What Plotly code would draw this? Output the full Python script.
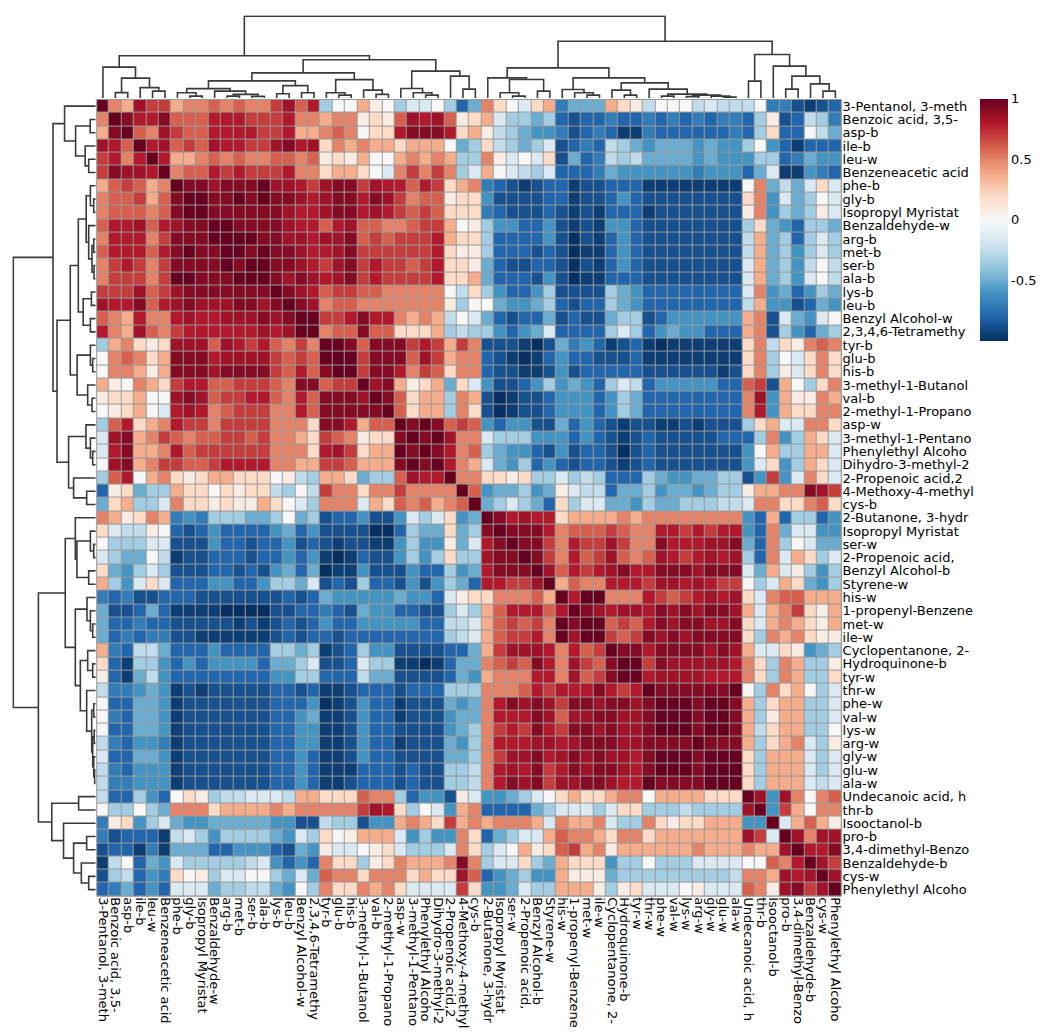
import plotly.graph_objects as go

W, H = 1043, 1032

labels = ["3-Pentanol, 3-meth", "Benzoic acid, 3,5-", "asp-b", "ile-b", "leu-w",
          "Benzeneacetic acid", "phe-b", "gly-b", "Isopropyl Myristat", "Benzaldehyde-w",
          "arg-b", "met-b", "ser-b", "ala-b", "lys-b", "leu-b", "Benzyl Alcohol-w",
          "2,3,4,6-Tetramethy", "tyr-b", "glu-b", "his-b", "3-methyl-1-Butanol", "val-b",
          "2-methyl-1-Propano", "asp-w", "3-methyl-1-Pentano", "Phenylethyl Alcoho",
          "Dihydro-3-methyl-2", "2-Propenoic acid,2", "4-Methoxy-4-methyl", "cys-b",
          "2-Butanone, 3-hydr", "Isopropyl Myristat", "ser-w", "2-Propenoic acid,",
          "Benzyl Alcohol-b", "Styrene-w", "his-w", "1-propenyl-Benzene", "met-w", "ile-w",
          "Cyclopentanone, 2-", "Hydroquinone-b", "tyr-w", "thr-w", "phe-w", "val-w", "lys-w",
          "arg-w", "gly-w", "glu-w", "ala-w", "Undecanoic acid, h", "thr-b", "Isooctanol-b",
          "pro-b", "3,4-dimethyl-Benzo", "Benzaldehyde-b", "cys-w", "Phenylethyl Alcoho"]

# correlation value read for each colour code
code_values = {"A": -1.0, "B": -0.95, "C": -0.88, "D": -0.8, "E": -0.7, "F": -0.6,
               "G": -0.5, "H": -0.35, "I": -0.25, "J": -0.15, "K": 0.0, "L": 0.08,
               "M": 0.2, "N": 0.37, "O": 0.5, "P": 0.6, "Q": 0.7, "R": 0.8, "S": 0.85,
               "T": 0.92, "U": 1.0}

# upper triangle of the correlation matrix, row r holds columns r..59
upper_rows = [
    "UONSQQNOOPOPOOQSPRHK" "KNLKHJJKHDGOMKJMNEGG" "GNMLIKKKIJIIIKEECBCD",
    "UTRRTPPPRRRQQQROONO" "OLMLPSRSPLMNJHHGHDCD" "DEDDEDEDEDEEDHLCDIHE",
    "UPOSQPPRRRRQQRNNOP" "OKMMRTTTRMNLIHGFFECD" "EDBBEDDDDDDEDHMDDKIG",
    "URSPQPSRRQQSTRSMO" "NONNMNNNKGHMIHGHJCDE" "DIHGFGGGFGFFHKFDBDDD",
    "URNNOPOPOOPPOPLM" "LNKKNONONHHOLJKJMCGD" "EIHIGGGGFGFFFHHDEGFF",
    "UOPPRQRQQQROOMN" "NMKJOQOQOHJNKJIHJDDD" "EGFFFFFFEFFFDGJBBFED",
    "UTTSTTTUSSRQST" "TQSRRPRQMNOEDCBCDDBC" "CDDDBBBBBBBBKOGIGJMJ",
    "UUTTUTUTTSRST" "TRTSQOPPLMMFCCCCDDBC" "CDFDCCCCCCCCMOFJGHKJ",
    "UTTTTTTSRRST" "TRSRQPQPMMMEDCCCDCBC" "BDDDBCCCCCCCLOFHGHLJ",
    "UUTTTTSRRPR" "SPPOOPQQNKLHFFDDFCBC" "BFFDCCCCCCCCHMGFDHHG",
    "UUUTTSSRSS" "TPQPQQQRNMMHDDDDFCAC" "BDFDCCCCCCCCINGHDHJH",
    "UTUTTSRRS" "TQQQQQQRMLLHDDDCDCAB" "BDFDCCCCCCCCINGHFHJH",
    "UUTTSRQS" "TQRQQPQRMMLGDCCDDCAC" "BDFDCCCCCCCCJNGHFIKI",
    "UTSTSRS" "TQRQQQQRMMNGDDDCFCAB" "BDDDCCCCCCCCJNGHFJKI",
    "UTSRPQ" "QPPOOOOOKIMHFDDFHCCC" "CHGFDDDDDDDDJOFGDFHG",
    "UTSOP" "POOOOOOOLHKKGFFGHDCD" "DHGFDDDDDDDDINFFCDGF",
    "UUQQ" "RTRRONONIKJGDCDDGCDC" "CGHHCDFFFFFFNOCJGFJK",
    "UOP" "PTPPMMMNHIHHFDFGJDDD" "DHJHDFGFFDDDNOCHFDGH",
    "UU" "TPTTTQRQNQOCCCBACGEF" "DBCDBABBBBBBMOIMLOPO",
    "U" "UQTTTPSQNOODCBABDFDD" "CCCDBBBBBBBBMOHKJMOM",
    "UQTTROQPMOODCCBBCFCD" "DDDDCCCCCCBCMOHLJMOM",
    "USTNLMNGMJFCCDFHFGF" "DHJIDFFFFFDDPQCNKHMO",
    "UTPMNNHONCABCCDFFF" "DFHGDDDDDDDDOSFNLLON",
    "UPMNNHOMCABCCDFFF" "DFHGDDDDDDDDORFNMMOO",
    "UTUTPQPFDFFCCGDF" "DCBCCBBCBCCCHMNJJOOM",
    "UTUSOOJHHHFFFDF" "DCBCDCCCCCDDDHOFHNMJ",
    "UTROPHGFFDCFCD" "DCACDCCCCCCCFKNHHNNJ",
    "URONJGFHDFDCD" "DCBCDCCCCCCCFJMFHNMJ",
    "UOOMMLMHHJHI" "HDDDHGFFGGHHCFQFJOMJ",
    "UPFGGHFGLJI" "IDGGHFGGFGHHLNNOOTSQ",
    "UGHJHGDMHJ" "JGGFHGGHHHIIJOOMMOPM",
    "UTRSRRMNN" "NNONOOOOOOOOFDNDHHDF",
    "UTTTROPP" "PQPOORRQRQRRFDOGJJFF",
    "UTTQORQ" "QSQOOTRRRSSTGDOHKJGG",
    "UTQORP" "QSPOPSRQRSRSHDOJNMHJ",
    "USPRQ" "RSTRRTTTSTTTJGNJLHFH",
    "UNPO" "ORRRQSSRSRQQKHJNMGFH",
    "URU" "UOOORQPQRSRSMJOPPNNN",
    "UT" "SRSSRTSTSTTSNJNOQMLN",
    "U" "UPQPRTSTTSSTMJNONMLN",
    "UQPQTSTSTTTTMHONOMLL",
    "UTTRTTTTSTSNJJMLFGH",
    "UUQTSSSSSROMHONHHL",
    "URSSSSRRROMHONHHM",
    "UTTTTTTUKHOMNKHJ",
    "UUUTUUTNHMNNHHJ",
    "UUTUUTNHLNNHHJ",
    "UTUUTNIMNNHHK",
    "UTTTNHMNOJHL",
    "UUUMHNNNJHJ",
    "UUMHNNNJHJ",
    "UMHNNNJIJ",
    "USFSOKOP",
    "UFQNKOO",
    "UJNPNL",
    "USOSS",
    "URRT",
    "USQ",
    "US",
    "U",
]

# dendrogram merges: (name, left, right, height)
merges = [
    ("a45", 4, 5, 7), ("a345", 3, "a45", 10.5), ("a12", 1, 2, 5.5),
    ("a1_5", "a12", "a345", 20), ("A", 0, "a1_5", 31),
    ("b78", 7, 8, 2), ("b678", 6, "b78", 5.3), ("b1011", 10, 11, 2), ("b1213", 12, 13, 1.7),
    ("b10_13", "b1011", "b1213", 3.7), ("b9_13", 9, "b10_13", 7), ("b6_13", "b678", "b9_13", 9.5),
    ("b1415", 14, 15, 4.3), ("b1617", 16, 17, 5.3), ("b14_17", "b1415", "b1617", 12.5),
    ("b6_17", "b6_13", "b14_17", 17.3), ("b1920", 19, 20, 3), ("b18_20", 18, "b1920", 5.3),
    ("b2223", 22, 23, 3.7), ("b21_23", 21, "b2223", 8), ("b18_23", "b18_20", "b21_23", 18.5),
    ("B1", "b6_17", "b18_23", 25.3),
    ("b2627", 26, 27, 3), ("b25_27", 25, "b2627", 5.3), ("b24_27", 24, "b25_27", 9.7),
    ("b2930", 29, 30, 9), ("b28_30", 28, "b2930", 22), ("B2", "b24_27", "b28_30", 27),
    ("B", "B1", "B2", 38.5), ("L", "A", "B", 42.5),
    ("c3334", 33, 34, 2), ("c32_34", 32, "c3334", 5.3), ("c3536", 35, 36, 7),
    ("c32_36", "c32_34", "c3536", 18.7), ("c31_36", 31, "c32_36", 20.3),
    ("c3940", 39, 40, 3), ("c38_40", 38, "c3940", 5.3), ("c37_40", 37, "c38_40", 8.7),
    ("c4243", 42, 43, 3), ("c41_43", 41, "c4243", 8),
    ("c5051", 50, 51, 1), ("c49_51", 49, "c5051", 2), ("c4748", 47, 48, 1.5),
    ("c47_51", "c4748", "c49_51", 3), ("c4546", 45, 46, 2), ("c45_51", "c4546", "c47_51", 4),
    ("c44_51", 44, "c45_51", 9), ("c41_51", "c41_43", "c44_51", 15.3),
    ("c37_51", "c37_40", "c41_51", 20.3), ("C1", "c31_36", "c37_51", 30.3),
    ("c5253", 52, 53, 17), ("c5556", 55, 56, 9), ("c5859", 58, 59, 7),
    ("c57_59", 57, "c5859", 14.3), ("c55_59", "c5556", "c57_59", 22),
    ("c54_59", 54, "c55_59", 32), ("C2", "c5253", "c54_59", 43.7),
    ("R", "C1", "C2", 57), ("root", "L", "R", 82),
]

n = len(labels)
assert n == 60
for r, s in enumerate(upper_rows):
    assert len(s) == n - r, (r, len(s))

z = [[0.0] * n for _ in range(n)]
for r, s in enumerate(upper_rows):
    for k, ch in enumerate(s):
        c = r + k
        z[r][c] = code_values[ch]
        z[c][r] = code_values[ch]

# dendrogram segments
pos = {i: float(i) for i in range(n)}
hgt = {i: 0.0 for i in range(n)}
dx, dy = [], []
for name, a, b, h in merges:
    xa, xb, ha, hb = pos[a], pos[b], hgt[a], hgt[b]
    dx += [xa, xa, xb, xb, None]
    dy += [ha, h, h, hb, None]
    pos[name] = (xa + xb) / 2
    hgt[name] = h

rdbu = ["rgb(5,48,97)", "rgb(33,102,172)", "rgb(67,147,195)", "rgb(146,197,222)",
        "rgb(209,229,240)", "rgb(247,247,247)", "rgb(253,219,199)", "rgb(244,165,130)",
        "rgb(214,96,77)", "rgb(178,24,43)", "rgb(103,0,31)"]
cscale = [[i / 10, c] for i, c in enumerate(rdbu)]

# pixel geometry
hx0, hx1, hy0, hy1 = 96, 843, 98.7, 897
FONT = "DejaVu Sans"
GRID = "#9a9a9a"

def px(x):
    return x / W

def py(y):
    return 1 - y / H

fig = go.Figure()
fig.add_trace(go.Heatmap(
    z=z, x=list(range(n)), y=list(range(n)), colorscale=cscale, zmin=-1, zmax=1,
    xgap=1, ygap=1, hoverinfo="skip",
    colorbar=dict(x=px(982), xanchor="left", y=py(219), yanchor="middle",
                  len=242, lenmode="pixels", thickness=28, thicknessmode="pixels",
                  outlinewidth=0, ticks="", tickvals=[1, 0.5, 0, -0.5],
                  ticktext=["1", "0.5", "0", "-0.5"], xpad=0, ypad=0,
                  tickfont=dict(family=FONT, size=13, color="black")),
))
line = dict(color="#3a3a3a", width=1.6)
fig.add_trace(go.Scatter(x=dx, y=dy, mode="lines", line=line, xaxis="x2", yaxis="y2",
                         hoverinfo="skip", showlegend=False))
fig.add_trace(go.Scatter(x=dy, y=dx, mode="lines", line=line, xaxis="x3", yaxis="y3",
                         hoverinfo="skip", showlegend=False))

hidden = dict(visible=False, showgrid=False, zeroline=False)
fig.update_layout(
    width=W, height=H, margin=dict(l=0, r=0, t=0, b=0),
    paper_bgcolor="white", plot_bgcolor="white", showlegend=False,
    font=dict(family=FONT, size=13, color="black"),
    xaxis=dict(domain=[px(hx0), px(hx1)], range=[-0.5, n - 0.5], anchor="y",
               tickvals=list(range(n)), ticktext=labels, tickangle=90, ticks="",
               showgrid=False, zeroline=False, showline=False,
               tickfont=dict(family=FONT, size=13, color="black")),
    yaxis=dict(domain=[py(hy1), py(hy0)], range=[n - 0.5, -0.5], anchor="x", side="right",
               tickvals=list(range(n)), ticktext=labels, ticks="",
               showgrid=False, zeroline=False, showline=False,
               tickfont=dict(family=FONT, size=13, color="black")),
    xaxis2=dict(domain=[px(hx0), px(hx1)], range=[-0.5, n - 0.5], anchor="y2", **hidden),
    yaxis2=dict(domain=[py(97.3), py(14.3)], range=[0, 83], anchor="x2", **hidden),
    xaxis3=dict(domain=[px(11.3), px(95)], range=[83, 0], anchor="y3", **hidden),
    yaxis3=dict(domain=[py(hy1), py(hy0)], range=[n - 0.5, -0.5], anchor="x3", **hidden),
    shapes=[
        dict(type="rect", xref="paper", yref="paper", x0=px(hx0), x1=px(hx1),
             y0=py(hy1), y1=py(hy0), fillcolor=GRID, line=dict(width=0), layer="below"),
        dict(type="rect", xref="paper", yref="paper", x0=px(hx0), x1=px(hx1),
             y0=py(hy1), y1=py(hy0), line=dict(color=GRID, width=1)),
    ],
)

fig.write_html("out.html", include_plotlyjs=True, config={"displayModeBar": False},
               post_script="document.body.style.margin='0';document.body.style.overflow='hidden';")
